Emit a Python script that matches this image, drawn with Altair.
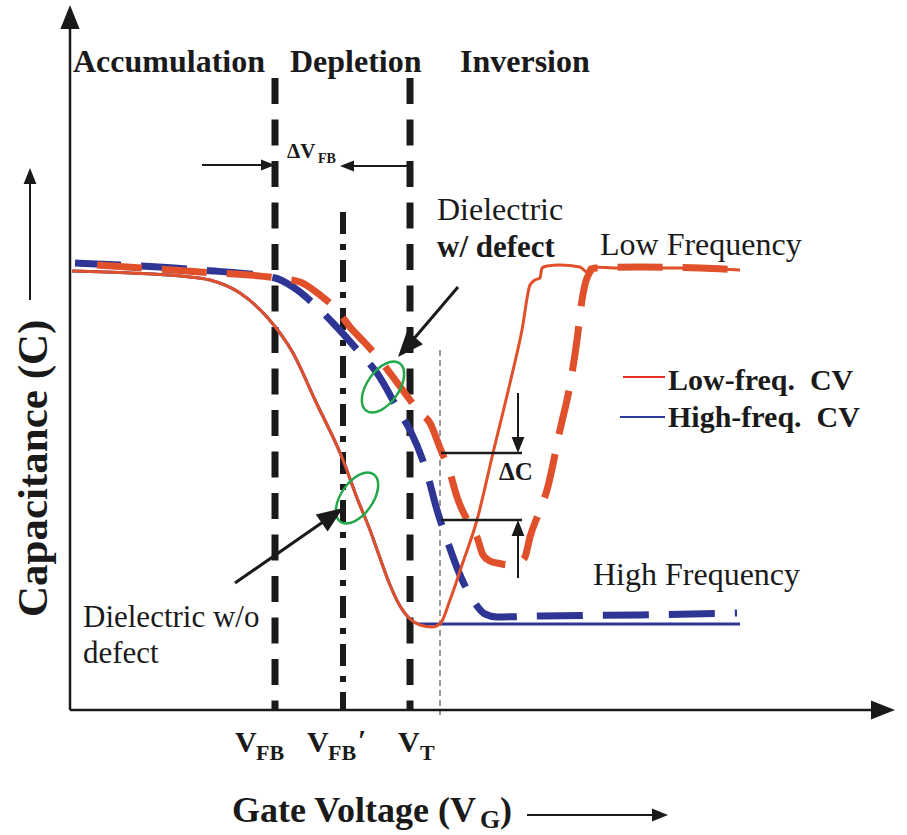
import altair as alt
import pandas as pd

# ---------------------------------------------------------------------------
# C-V curves of a MOS capacitor.  Gate voltage (V) and capacitance (C) are in
# arbitrary units, measured from the corner where the two axes meet.
# ---------------------------------------------------------------------------

# Low-frequency C-V, dielectric without defect (solid red)
lf_ideal_v = [2, 60, 110, 140, 170, 197, 223, 245, 273, 287, 300, 310, 320, 330, 340, 350,
              362, 370, 380, 392, 407, 423, 440, 452, 460, 465, 470, 472, 477, 490, 510,
              517, 520, 550, 610, 670]
lf_ideal_c = [439, 437, 434, 430, 417, 393, 357, 310, 250, 212, 180, 152, 125, 104, 91, 85,
              83, 86, 110, 145, 190, 257, 327, 380, 425, 430, 432, 442, 444, 445, 443,
              438, 443, 442, 442, 440]

# High-frequency C-V, dielectric without defect (solid blue)
hf_ideal_v = [2, 60, 110, 140, 170, 197, 223, 245, 273, 287, 300, 310, 320, 330, 340, 350, 370, 670]
hf_ideal_c = [439, 437, 434, 430, 417, 393, 357, 310, 250, 212, 180, 152, 125, 104, 91, 86, 86, 86]

# High-frequency C-V, dielectric with defect (dashed blue)
hf_defect_v = [5, 70, 130, 205, 223, 247, 263, 290, 307, 330, 340, 357, 367, 377, 390, 403,
               415, 427, 470, 570, 667]
hf_defect_c = [447, 444, 440, 432, 423, 403, 387, 357, 337, 297, 280, 237, 200, 170, 135, 110,
               96, 93, 94, 95, 97]

# Low-frequency C-V, dielectric with defect (dashed red)
lf_defect_v = [27, 130, 207, 230, 250, 267, 280, 295, 310, 323, 340, 350, 360, 370, 380, 387,
               400, 407, 413, 420, 427, 440, 450, 455, 460, 470, 477, 490, 500, 507, 512,
               517, 525, 570, 630, 670]
lf_defect_c = [445, 438, 432, 428, 415, 400, 383, 367, 350, 333, 310, 297, 287, 262, 237, 213,
               185, 173, 155, 149, 147, 145, 148, 153, 173, 200, 220, 280, 325, 370, 410,
               432, 442, 443, 442, 440]

# Characteristic voltages
v_fb = 205        # flat-band voltage
v_fb_shift = 273  # flat-band voltage with defect
v_t = 340         # threshold voltage
v_dc = 370        # voltage at which the capacitance drop is read

# ---------------------------------------------------------------------------
# Layout and styling
# ---------------------------------------------------------------------------
RED = "#E0502A"
BLUE = "#2E3594"
GREEN = "#22A84A"
INK = "#1a1a1a"
FONT = "Liberation Serif"
FONT_REGULAR = "Liberation Serif, Times New Roman, DejaVu Serif, serif"

xs = alt.Scale(domain=[-70, 837], nice=False, zero=False)
ys = alt.Scale(domain=[-125, 710], nice=False, zero=False)
X = alt.X("V:Q", scale=xs, axis=None)
Y = alt.Y("C:Q", scale=ys, axis=None)

ARROW_HEAD = "M0,0L-0.8,2L0.8,2Z"
ELLIPSE = "M0,-1 A0.55,1 0 1,1 0,1 A0.55,1 0 1,1 0,-1 Z"


def curve(v, c, color, width, dash=None):
    df = pd.DataFrame({"V": v, "C": c, "i": list(range(len(v)))})
    kw = dict(color=color, strokeWidth=width, interpolate="monotone")
    if dash:
        kw["strokeDash"] = dash
    return alt.Chart(df).mark_line(**kw).encode(x=X, y=Y, order="i:Q")


def segments(rows, **mark_kw):
    df = pd.DataFrame(rows, columns=["V", "C", "V2", "C2", "w"])
    return alt.Chart(df).mark_rule(**mark_kw).encode(
        x=X, y=Y, x2="V2:Q", y2="C2:Q",
        strokeWidth=alt.StrokeWidth("w:Q", scale=None),
    )


# region boundaries
c_top = 632
boundaries = segments([(v_fb, c_top, v_fb, 0, 7), (v_t, c_top, v_t, 0, 7)],
                      color=INK, strokeDash=[26, 15.5])
shifted_fb = segments([(v_fb_shift, 498, v_fb_shift, 0, 6)],
                      color=INK, strokeDash=[22, 10, 6, 10])
dc_guide = segments([(v_dc, 360, v_dc, -5, 1.6)], color="#808080", strokeDash=[6, 4])

# axes and arrow shafts
axes = segments([(0, 0, 0, 690, 2.5), (0, 0, 812, 0, 2.5)], color=INK)
shafts = segments([
    (-40, 410, -40, 534, 2),      # capacitance arrow
    (457, -105, 590, -105, 2),    # gate-voltage arrow
    (132, 545, 199, 545, 2),      # delta V_FB, left
    (340, 544, 276, 544, 2),      # delta V_FB, right
    (448, 317, 448, 265, 2),      # delta C, down
    (448, 132, 448, 182, 2),      # delta C, up
    (371, 257, 452, 257, 2.5),    # delta C, upper level
    (371, 190, 452, 190, 2.5),    # delta C, lower level
    (388, 423, 336, 362, 3),      # pointer to dielectric with defect
    (165, 127, 263, 195, 3),      # pointer to dielectric without defect
], color=INK)

heads_df = pd.DataFrame(
    [(0, 705, 0, 576), (825, 0, 90, 576), (-40, 542, 0, 256), (598, -105, 90, 256),
     (205, 545, 90, 196), (270, 544, 270, 196), (448, 257, 180, 256), (448, 190, 0, 256),
     (328, 353, 221, 676), (273, 202, 55, 676)],
    columns=["V", "C", "angle", "size"])
heads = alt.Chart(heads_df).mark_point(shape=ARROW_HEAD, filled=True, color=INK, opacity=1).encode(
    x=X, y=Y,
    angle=alt.Angle("angle:Q", scale=None),
    size=alt.Size("size:Q", scale=None),
)

ellipse_df = pd.DataFrame([(313, 323, 35), (287, 212, 35)], columns=["V", "C", "angle"])
ellipses = alt.Chart(ellipse_df).mark_point(
    shape=ELLIPSE, filled=False, color=GREEN, strokeWidth=2.5, opacity=1, size=3364
).encode(x=X, y=Y, angle=alt.Angle("angle:Q", scale=None))

legend_df = pd.DataFrame([(553, 333, 595, 333, "#E5302A"), (550, 293, 595, 293, "#2B3A9C")],
                         columns=["V", "C", "V2", "C2", "col"])
legend_lines = alt.Chart(legend_df).mark_rule(strokeWidth=2).encode(
    x=X, y=Y, x2="V2:Q", y2="C2:Q", color=alt.Color("col:N", scale=None))

NB = "\u00a0"
bold_labels = pd.DataFrame([
    ("Accumulation", 3, 638, 32, 0),
    ("Depletion", 220, 638, 32, 0),
    ("Inversion", 390, 638, 32, 0),
    ("w/ defect", 367, 453, 31, 0),
    ("Low-freq." + NB + " CV", 598, 320, 30, 0),
    ("High-freq." + NB + " CV", 598, 283, 30, 0),
    ("V", 165, -42, 30, 0), ("FB", 186, -50, 22, 0),
    ("V", 237, -42, 30, 0), ("FB", 258, -50, 22, 0), ("\u2032", 288, -40, 30, 0),
    ("V", 328, -42, 30, 0), ("T", 350, -50, 22, 0),
    ("\u0394V", 217, 552, 21, 0), ("FB", 248, 547, 14, 0),
    ("\u0394C", 429, 230, 25, 0),
    ("Gate Voltage (V", 162, -112, 36, 0), ("G", 410, -118, 26, 0), (")", 430, -112, 36, 0),
    ("Capacitance (C)", -23, 93, 43, 270),
], columns=["label", "V", "C", "size", "angle"])

regular_labels = pd.DataFrame([
    ("Dielectric", 367, 490, 32),
    ("Low Frequency", 530, 455, 32),
    ("High Frequency", 523, 125, 32),
    ("Dielectric w/o", 13, 83, 31),
    ("defect", 13, 47, 31),
], columns=["label", "V", "C", "size"])

bold_text = alt.Chart(bold_labels).mark_text(
    font=FONT, fontWeight="bold", align="left", baseline="alphabetic", color=INK
).encode(x=X, y=Y, text="label:N",
         size=alt.Size("size:Q", scale=None), angle=alt.Angle("angle:Q", scale=None))

regular_text = alt.Chart(regular_labels).mark_text(
    font=FONT_REGULAR, fontWeight="normal", align="left", baseline="alphabetic", color=INK
).encode(x=X, y=Y, text="label:N", size=alt.Size("size:Q", scale=None))

chart = alt.layer(
    boundaries, shifted_fb, dc_guide, axes,
    curve(hf_defect_v, hf_defect_c, BLUE, 7, [46, 20]),
    curve(lf_defect_v, lf_defect_c, RED, 7, [45, 20]),
    curve(hf_ideal_v, hf_ideal_c, BLUE, 3),
    curve(lf_ideal_v, lf_ideal_c, RED, 3),
    ellipses, shafts, heads, legend_lines, bold_text, regular_text,
).properties(
    width=907, height=835, padding=0,
    autosize=alt.AutoSizeParams(type="none"),
    background="white",
).configure_view(stroke=None)

chart.save("out.html", embed_options={"renderer": "svg", "actions": False})
